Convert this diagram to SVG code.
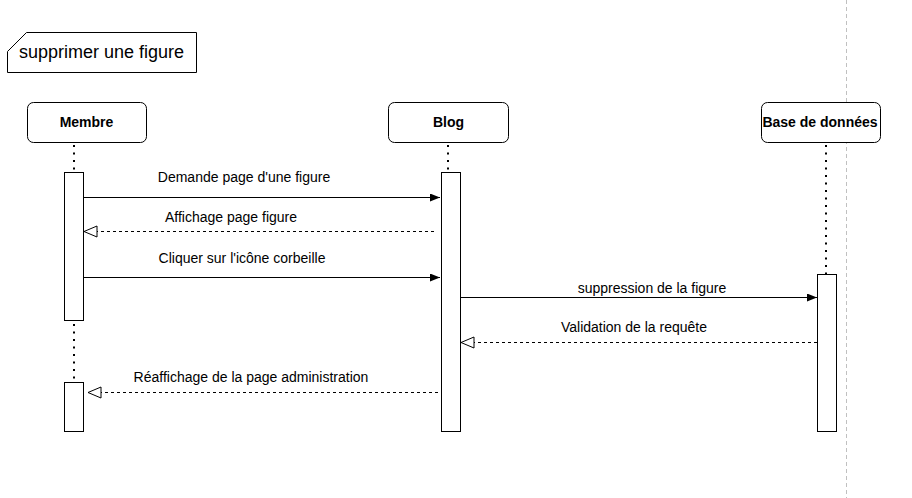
<svg xmlns="http://www.w3.org/2000/svg" width="912" height="498" viewBox="0 0 912 498">
<style>
.box{fill:#fff;stroke:#000;stroke-width:1}
.act{fill:#fff;stroke:#000;stroke-width:1}
.life{stroke:#000;stroke-width:2;stroke-dasharray:2 5.5;fill:none}
.msg{stroke:#000;stroke-width:1;fill:none}
.ret{stroke:#000;stroke-width:1;stroke-dasharray:3 3;fill:none}
.hd{font-family:"Liberation Sans",Arial,sans-serif;font-size:14px;font-weight:bold;text-anchor:middle;fill:#000}
.lb{font-family:"Liberation Sans",Arial,sans-serif;font-size:14px;text-anchor:middle;fill:#000}
</style>
<defs>
<marker id="fa" markerWidth="12" markerHeight="10" refX="10" refY="4" orient="auto" markerUnits="userSpaceOnUse">
<path d="M0,0 L10,4 L0,8 Z" fill="#000"/>
</marker>
<marker id="oa" markerWidth="16" markerHeight="14" refX="14" refY="7" orient="auto" markerUnits="userSpaceOnUse">
<path d="M1,1.5 L14,7 L1,12.5 Z" fill="#fff" stroke="#000" stroke-width="1"/>
</marker>
</defs>
<rect width="912" height="498" fill="#fff"/>
<line x1="846.5" y1="0" x2="846.5" y2="498" stroke="#c0c0c0" stroke-width="1" stroke-dasharray="4 3"/>
<g id="frame">
<path d="M26.5,32.5 H196.5 V72.5 H7.5 V51.5 Z" fill="#fff" stroke="#000"/>
<text x="19" y="58" font-family="'Liberation Sans',Arial,sans-serif" font-size="18">supprimer une figure</text>
</g>
<g id="membre">
<rect class="box" x="27.5" y="102.5" width="119" height="40" rx="6"/>
<text class="hd" x="86.5" y="127">Membre</text>
<line class="life" x1="74" y1="145" x2="74" y2="172"/>
<line class="life" x1="74" y1="324" x2="74" y2="382"/>
<rect class="act" x="64.5" y="172.5" width="19" height="148"/>
<rect class="act" x="64.5" y="382.5" width="19" height="49"/>
</g>
<g id="blog">
<rect class="box" x="388.5" y="102.5" width="120" height="40" rx="6"/>
<text class="hd" x="448.5" y="127">Blog</text>
<line class="life" x1="448" y1="145" x2="448" y2="172"/>
<rect class="act" x="441.5" y="172.5" width="19" height="259"/>
</g>
<g id="bdd">
<rect class="box" x="761.5" y="102.5" width="119" height="40" rx="6"/>
<text class="hd" x="820" y="127">Base de données</text>
<line class="life" x1="826" y1="145" x2="826" y2="274"/>
<rect class="act" x="817.5" y="274.5" width="19" height="157"/>
</g>
<g id="connectors">
<line class="msg" x1="84" y1="197.5" x2="440" y2="197.5" marker-end="url(#fa)"/>
<text class="lb" x="244" y="182">Demande page d'une figure</text>
<line class="ret" x1="434" y1="231.5" x2="84" y2="231.5" marker-end="url(#oa)"/>
<text class="lb" x="231" y="222">Affichage page figure</text>
<line class="msg" x1="84" y1="277.5" x2="440" y2="277.5" marker-end="url(#fa)"/>
<text class="lb" x="242" y="263">Cliquer sur l'icône corbeille</text>
<line class="msg" x1="461" y1="297.5" x2="817" y2="297.5" marker-end="url(#fa)"/>
<text class="lb" x="652" y="293">suppression de la figure</text>
<line class="ret" x1="817" y1="342.5" x2="461" y2="342.5" marker-end="url(#oa)"/>
<text class="lb" x="634" y="332">Validation de la requête</text>
<line class="ret" x1="438" y1="392.5" x2="88" y2="392.5" marker-end="url(#oa)"/>
<text class="lb" x="251" y="382">Réaffichage de la page administration</text>
</g>
</svg>
